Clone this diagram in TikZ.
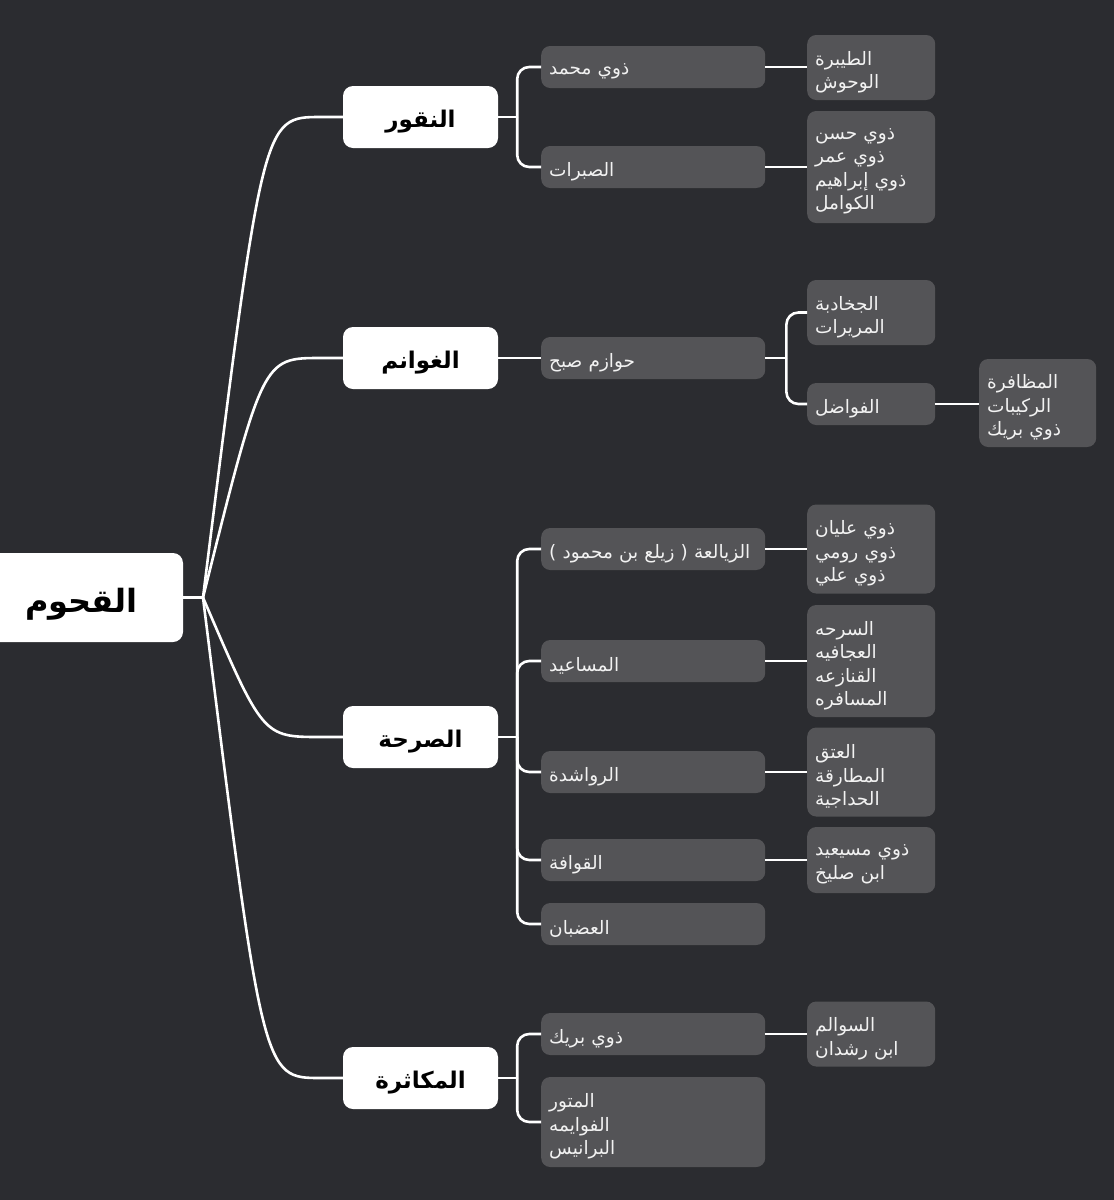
\documentclass[tikz,border=0pt]{standalone}
\usepackage{fontspec}
\usetikzlibrary{calc}
\TeXXeTstate=1
\newfontfamily\arabicfont[Script=Arabic]{DejaVu Sans}
\newcommand{\myRL}[1]{\raisebox{-4.5pt}[\height][\depth]{\beginR #1\endR}}
\newcommand{\lowRL}[2]{\raisebox{-#1}[\height][\depth]{\beginR #2\endR}}
\definecolor{bgc}{RGB}{43,44,48}
\definecolor{boxgray}{RGB}{84,84,87}
\definecolor{txtlight}{RGB}{242,242,242}
\begin{document}
\begin{tikzpicture}[x=1pt,y=-1pt,
  conn/.style={draw=white, line width=2.6pt},
  bus/.style={conn, rounded corners=12pt},
  rootbox/.style={fill=white, rounded corners=10pt, minimum width=203pt, minimum height=89pt, inner sep=0pt,
    text=black, font=\arabicfont\bfseries\fontsize{32}{40}\selectfont},
  lone/.style={fill=white, rounded corners=10pt, minimum width=155pt, minimum height=62pt, inner sep=0pt,
    text=black, font=\arabicfont\bfseries\fontsize{23}{28}\selectfont},
  gbox/.style={fill=boxgray, rounded corners=9pt, inner xsep=8pt, inner ysep=0pt, align=left,
    text=txtlight, font=\arabicfont\fontsize{18.5}{23.5}\selectfont, anchor=west},
  ltwo/.style={gbox, text width=208pt, minimum height=42pt},
  lthree/.style={gbox, text width=112pt},
  lfour/.style={gbox, text width=101pt}
]
\useasboundingbox (0,0) rectangle (1114,1200);
\fill[bgc] (0,0) rectangle (1114,1200);

% root
\node[rootbox] (root) at (81.5,597.5) {\lowRL{7pt}{القحوم}};

% level 1
\node[lone] (n1) at (420.5,117) {\lowRL{5pt}{النقور}};
\node[lone] (n2) at (420.5,358) {\lowRL{5pt}{الغوانم}};
\node[lone] (n3) at (420.5,737) {\lowRL{5pt}{الصرحة}};
\node[lone] (n4) at (420.5,1078) {\lowRL{5pt}{المكاثرة}};

% level 2
\node[ltwo] (c11) at (541,67) {\myRL{ذوي محمد}};
\node[ltwo] (c12) at (541,167) {\myRL{الصبرات}};
\node[ltwo] (c21) at (541,358) {\myRL{حوازم صبح}};
\node[ltwo] (c31) at (541,549) {\myRL{الزيالعة ( زيلع بن محمود )}};
\node[ltwo] (c32) at (541,661) {\myRL{المساعيد}};
\node[ltwo] (c33) at (541,772) {\myRL{الرواشدة}};
\node[ltwo] (c34) at (541,860) {\myRL{القوافة}};
\node[ltwo] (c35) at (541,924) {\myRL{العضبان}};
\node[ltwo] (c41) at (541,1034) {\myRL{ذوي بريك}};
\node[ltwo, minimum height=90pt] (c42) at (541,1122) {\myRL{المتور}\\\myRL{الفوايمه}\\\myRL{البرانيس}};

% level 3
\node[lthree, minimum height=65pt] (t1) at (807,67.5) {\myRL{الطيبرة}\\\myRL{الوحوش}};
\node[lthree, minimum height=112pt] (t2) at (807,167) {\myRL{ذوي حسن}\\\myRL{ذوي عمر}\\\myRL{ذوي إبراهيم}\\\myRL{الكوامل}};
\node[lthree, minimum height=65pt] (t3) at (807,312.5) {\myRL{الجخادبة}\\\myRL{المريرات}};
\node[lthree, minimum height=42pt] (t4) at (807,404) {\myRL{الفواضل}};
\node[lthree, minimum height=89pt] (t5) at (807,549) {\myRL{ذوي عليان}\\\myRL{ذوي رومي}\\\myRL{ذوي علي}};
\node[lthree, minimum height=112pt] (t6) at (807,661) {\myRL{السرحه}\\\myRL{العجافيه}\\\myRL{القنازعه}\\\myRL{المسافره}};
\node[lthree, minimum height=89pt] (t7) at (807,772) {\myRL{العتق}\\\myRL{المطارقة}\\\myRL{الحداجية}};
\node[lthree, minimum height=66pt] (t8) at (807,860) {\myRL{ذوي مسيعيد}\\\myRL{ابن صليخ}};
\node[lthree, minimum height=65pt] (t9) at (807,1034) {\myRL{السوالم}\\\myRL{ابن رشدان}};

% level 4
\node[lfour, minimum height=88pt] (f1) at (979,403) {\myRL{المظافرة}\\\myRL{الركيبات}\\\myRL{ذوي بريك}};

% root connectors
\coordinate (rj) at (203,597.5);
\draw[conn] (root.east) -- (rj);
\foreach \n in {n1,n2,n3,n4}
  \draw[conn] (rj) .. controls ($(\n.west)+(-80,0)$) and ($(\n.west)+(-80,0)$) .. ($(\n.west)+(-22,0)$) -- (\n.west);

% level1 -> level2
\coordinate (b1) at ($(n1.east)+(19,0)$);
\draw[conn] (n1.east) -- (b1);
\draw[bus] (b1) |- (c11.west);
\draw[bus] (b1) |- (c12.west);

\draw[conn] (n2.east) -- (c21.west);

\coordinate (b3) at ($(n3.east)+(19,0)$);
\draw[conn] (n3.east) -- (b3);
\foreach \c in {c31,c32,c33,c34,c35} \draw[bus] (b3) |- (\c.west);

\coordinate (b4) at ($(n4.east)+(19,0)$);
\draw[conn] (n4.east) -- (b4);
\draw[bus] (b4) |- (c41.west);
\draw[bus] (b4) |- (c42.west);

% level2 -> level3
\draw[conn] (c11.east) -- (t1.west |- c11.east);
\draw[conn] (c12.east) -- (t2.west |- c12.east);
\coordinate (b21) at ($(c21.east)+(21,0)$);
\draw[conn] (c21.east) -- (b21);
\draw[bus] (b21) |- (t3.west);
\draw[bus] (b21) |- (t4.west);
\draw[conn] (c31.east) -- (t5.west);
\draw[conn] (c32.east) -- (t6.west);
\draw[conn] (c33.east) -- (t7.west);
\draw[conn] (c34.east) -- (t8.west);
\draw[conn] (c41.east) -- (t9.west);

% level3 -> level4
\draw[conn] (t4.east) -- (f1.west |- t4.east);
\end{tikzpicture}
\end{document}
